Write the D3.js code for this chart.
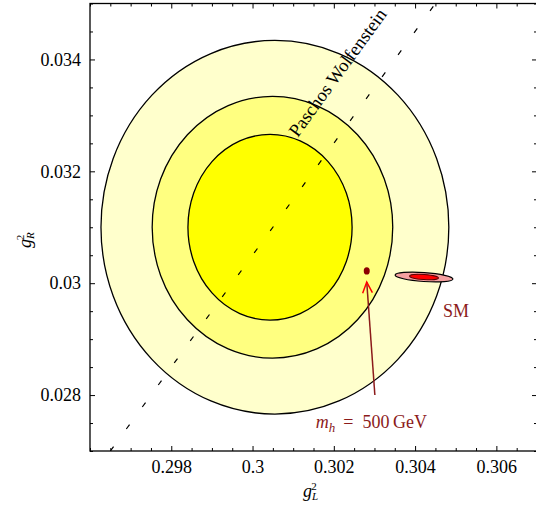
<!DOCTYPE html>
<html>
<head>
<meta charset="utf-8">
<script src="https://cdn.jsdelivr.net/npm/d3@7"></script>
<style>
body { margin: 0; background: #fff; }
text { font-family: "Liberation Serif", "Times New Roman", serif; }
</style>
</head>
<body>
<svg id="chart" width="536" height="506"></svg>
<script>
// tick values
var xTicks = [0.298, 0.3, 0.302, 0.304, 0.306];
var yTicks = [0.028, 0.03, 0.032, 0.034];

// confidence contours (outer -> inner)
var contourCx = [0.30055, 0.30049, 0.30043];
var contourCy = [0.0310, 0.0310, 0.0310];
var contourRx = [0.00428, 0.00296, 0.00202];
var contourRy = [0.00334, 0.00234, 0.00166];
var contourFill = ["#ffffcc", "#ffff80", "#ffff00"];

// SM ellipses (outer, inner)
var smCenter = [0.30422, 0.03011];
var smRx = [0.000713, 0.000357];
var smRy = [0.00008, 0.000046];

// higgs point + arrow
var higgsPoint = [0.30281, 0.03022];
var arrowBase = [0.30301, 0.02800];
var arrowTip = [0.30281, 0.03002];

// Paschos-Wolfenstein line  gR^2 = gL^2 - 0.2695
var pwLine = [[0.2965, 0.0270], [0.3045, 0.0350]];

var svg = d3.select("#chart");
var padL = 90, padR = 537, padT = 3.5, padB = 451;

var x = d3.scaleLinear().domain([0.296, 0.307]).range([padL, padR]);
var y = d3.scaleLinear().domain([0.027, 0.035]).range([padB, padT]);

var minorX = d3.range(0.296, 0.30701, 0.0005).filter(function(v) {
	return xTicks.every(function(t) { return Math.abs(t - v) > 1e-6; });
});
var minorY = d3.range(0.027, 0.03501, 0.0005).filter(function(v) {
	return yTicks.every(function(t) { return Math.abs(t - v) > 1e-6; });
});

svg.append("defs").append("clipPath").attr("id", "plotclip")
	.append("rect").attr("x", padL).attr("y", padT)
	.attr("width", padR - padL).attr("height", padB - padT);

var plot = svg.append("g").attr("clip-path", "url(#plotclip)");

// contours
for (var i = 0; i < contourCx.length; i++) {
	plot.append("ellipse")
		.attr("cx", x(contourCx[i]))
		.attr("cy", y(contourCy[i]))
		.attr("rx", x(contourCx[i] + contourRx[i]) - x(contourCx[i]))
		.attr("ry", y(contourCy[i]) - y(contourCy[i] + contourRy[i]))
		.attr("fill", contourFill[i])
		.attr("stroke", "#000")
		.attr("stroke-width", 1.3);
}

// dashed PW line
plot.append("line")
	.attr("x1", x(pwLine[0][0])).attr("y1", y(pwLine[0][1]))
	.attr("x2", x(pwLine[1][0])).attr("y2", y(pwLine[1][1]))
	.attr("stroke", "#000")
	.attr("stroke-width", 1.2)
	.attr("stroke-dasharray", "5.5,21.7");

var ang = Math.atan2(y(pwLine[1][1]) - y(pwLine[0][1]), x(pwLine[1][0]) - x(pwLine[0][0])) * 180 / Math.PI;
var pwX = x(0.30111), pwY = y(0.032596);
svg.append("text")
	.attr("transform", "translate(" + pwX + "," + pwY + ") rotate(" + ang + ")")
	.attr("font-size", 18.5)
	.text("Paschos Wolfenstein");

// SM ellipses
var smx = x(smCenter[0]), smy = y(smCenter[1]);
var smG = svg.append("g").attr("transform", "rotate(4," + smx + "," + smy + ")");
smG.append("ellipse")
	.attr("cx", smx).attr("cy", smy)
	.attr("rx", x(smCenter[0] + smRx[0]) - smx)
	.attr("ry", smy - y(smCenter[1] + smRy[0]))
	.attr("fill", "#f5a0a0").attr("stroke", "#000").attr("stroke-width", 1.2);
smG.append("ellipse")
	.attr("cx", smx).attr("cy", smy)
	.attr("rx", x(smCenter[0] + smRx[1]) - smx)
	.attr("ry", smy - y(smCenter[1] + smRy[1]))
	.attr("fill", "#ff0000").attr("stroke", "#5a0000").attr("stroke-width", 1);

svg.append("text")
	.attr("x", smx + 19).attr("y", smy + 40)
	.attr("font-size", 18).attr("fill", "#8b1a1a")
	.text("SM");

// higgs point
svg.append("ellipse")
	.attr("cx", x(higgsPoint[0])).attr("cy", y(higgsPoint[1]))
	.attr("rx", 3).attr("ry", 3.6)
	.attr("fill", "#8b0000");

// arrow
var ax = x(arrowBase[0]), ay = y(arrowBase[1]);
var tx = x(arrowTip[0]), ty = y(arrowTip[1]);
svg.append("line")
	.attr("x1", ax).attr("y1", ay).attr("x2", tx).attr("y2", ty)
	.attr("stroke", "#8b1a1a").attr("stroke-width", 1.5);
var dirA = Math.atan2(ty - ay, tx - ax);
var headLen = 12, headAng = 0.42;
svg.append("path")
	.attr("d", "M" + (tx - headLen * Math.cos(dirA - headAng)) + "," + (ty - headLen * Math.sin(dirA - headAng)) +
		"L" + tx + "," + ty +
		"L" + (tx - headLen * Math.cos(dirA + headAng)) + "," + (ty - headLen * Math.sin(dirA + headAng)))
	.attr("fill", "none").attr("stroke", "#ff0000").attr("stroke-width", 1.5);

var mt = svg.append("text")
	.attr("x", ax - 59).attr("y", ay + 33)
	.attr("font-size", 18).attr("fill", "#8b1a1a");
mt.append("tspan").attr("font-style", "italic").text("m");
mt.append("tspan").attr("font-style", "italic").attr("font-size", 13).attr("dy", 4).text("h");
mt.append("tspan").attr("dy", -4).attr("dx", 8).text("=");
mt.append("tspan").attr("dx", 9).text("500\u2009GeV");

// frame + ticks
function addTicks(axis, vals, size) {
	return axis.tickValues(vals).tickSizeInner(-size).tickSizeOuter(0);
}
svg.append("g").attr("transform", "translate(0," + padB + ")")
	.call(addTicks(d3.axisBottom(x), xTicks, 5).tickPadding(9).tickFormat(d3.format("")));
svg.append("g").attr("transform", "translate(0," + padB + ")")
	.call(addTicks(d3.axisBottom(x), minorX, 3).tickFormat(""));
svg.append("g").attr("transform", "translate(0," + padT + ")")
	.call(addTicks(d3.axisTop(x), xTicks, 5).tickFormat(""));
svg.append("g").attr("transform", "translate(0," + padT + ")")
	.call(addTicks(d3.axisTop(x), minorX, 3).tickFormat(""));
svg.append("g").attr("transform", "translate(" + padL + ",0)")
	.call(addTicks(d3.axisLeft(y), yTicks, 5).tickPadding(9).tickFormat(d3.format("")));
svg.append("g").attr("transform", "translate(" + padL + ",0)")
	.call(addTicks(d3.axisLeft(y), minorY, 3).tickFormat(""));
svg.append("g").attr("transform", "translate(" + padR + ",0)")
	.call(addTicks(d3.axisRight(y), yTicks, 5).tickFormat(""));
svg.append("g").attr("transform", "translate(" + padR + ",0)")
	.call(addTicks(d3.axisRight(y), minorY, 3).tickFormat(""));

svg.selectAll(".domain").remove();
svg.selectAll(".tick line").attr("stroke", "#000").attr("stroke-width", 1);
svg.selectAll(".tick text")
	.style("font-family", "'Liberation Serif', serif")
	.attr("font-size", 18).attr("fill", "#000");

svg.append("rect")
	.attr("x", padL).attr("y", padT)
	.attr("width", padR - padL).attr("height", padB - padT)
	.attr("fill", "none").attr("stroke", "#000").attr("stroke-width", 1.3);

// axis titles
var xl = svg.append("text").attr("x", 303).attr("y", 497).attr("font-size", 18);
xl.append("tspan").attr("font-style", "italic").text("g");
xl.append("tspan").attr("font-style", "italic").attr("font-size", 11).attr("dy", 3).text("L");
xl.append("tspan").attr("font-size", 11).attr("dx", -7).attr("dy", -10).text("2");

var yl = svg.append("text").attr("transform", "translate(31,248) rotate(-90)").attr("font-size", 18);
yl.append("tspan").attr("font-style", "italic").text("g");
yl.append("tspan").attr("font-style", "italic").attr("font-size", 11).attr("dy", 3).text("R");
yl.append("tspan").attr("font-size", 11).attr("dx", -8).attr("dy", -10).text("2");
</script>
</body>
</html>
